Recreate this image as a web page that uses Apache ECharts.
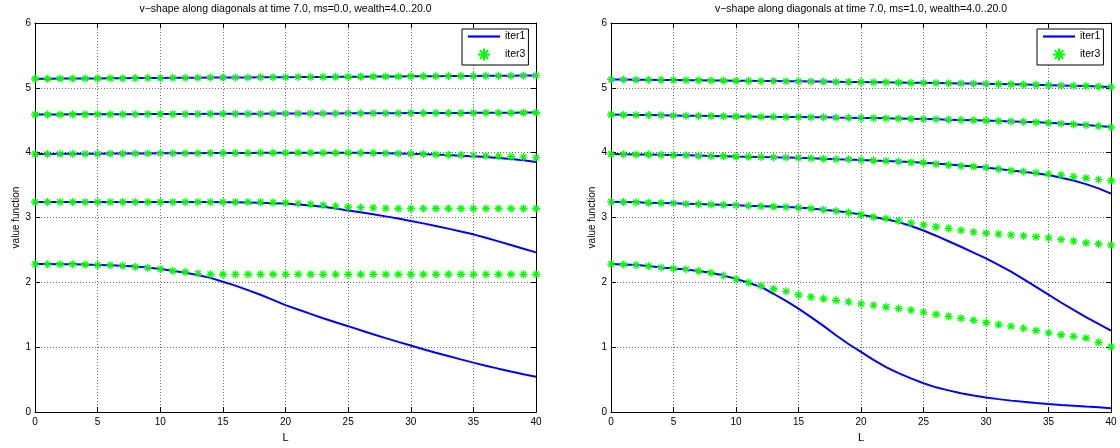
<!DOCTYPE html>
<html>
<head>
<meta charset="utf-8">
<script src="https://cdn.jsdelivr.net/npm/echarts@6/dist/echarts.min.js"></script>
<style>
html,body{margin:0;padding:0;background:#fff;}
#chart{width:1120px;height:448px;}
</style>
</head>
<body>
<div id="chart"></div>
<script>
// ---- data ----
const L = [0,1,2,3,4,5,6,7,8,9,10,11,12,13,14,15,16,17,18,19,20,21,22,23,24,25,26,27,28,29,30,31,32,33,34,35,36,37,38,39,40];
const xTicks = [0,5,10,15,20,25,30,35,40];
const yTicks = [0,1,2,3,4,5,6];
const titles = [
  'v\u2212shape along diagonals at time 7.0, ms=0.0, wealth=4.0..20.0',
  'v\u2212shape along diagonals at time 7.0, ms=1.0, wealth=4.0..20.0'
];
const legendNames = ['iter1', 'iter3'];

// ms = 0.0 panel
const ms0Iter1W1 = [5.140,5.141,5.143,5.144,5.145,5.146,5.148,5.149,5.150,5.151,5.153,5.154,5.155,5.156,5.158,5.159,5.160,5.161,5.163,5.164,5.165,5.166,5.168,5.169,5.170,5.171,5.173,5.174,5.175,5.176,5.178,5.179,5.180,5.181,5.183,5.184,5.185,5.186,5.188,5.189,5.190];
const ms0Iter1W2 = [4.588,4.589,4.590,4.591,4.591,4.592,4.593,4.594,4.594,4.595,4.596,4.597,4.597,4.598,4.599,4.600,4.600,4.601,4.602,4.603,4.603,4.604,4.605,4.606,4.606,4.607,4.608,4.609,4.609,4.610,4.611,4.612,4.612,4.613,4.614,4.615,4.615,4.616,4.617,4.618,4.618];
const ms0Iter1W3 = [3.980,3.981,3.982,3.983,3.984,3.985,3.986,3.987,3.988,3.989,3.990,3.991,3.992,3.993,3.994,3.995,3.996,3.997,3.998,3.999,4.000,4.000,4.000,4.000,4.000,4.000,3.998,3.996,3.993,3.989,3.984,3.978,3.971,3.963,3.954,3.944,3.932,3.918,3.902,3.882,3.858];
const ms0Iter1W4 = [3.240,3.240,3.240,3.240,3.240,3.240,3.240,3.240,3.240,3.240,3.240,3.240,3.240,3.239,3.238,3.237,3.235,3.232,3.228,3.222,3.215,3.200,3.185,3.165,3.140,3.110,3.080,3.050,3.018,2.984,2.948,2.910,2.870,2.829,2.786,2.741,2.688,2.633,2.577,2.520,2.463];
const ms0Iter1W5 = [2.283,2.282,2.280,2.278,2.275,2.270,2.265,2.257,2.245,2.228,2.206,2.180,2.150,2.115,2.070,2.010,1.950,1.880,1.810,1.730,1.650,1.582,1.515,1.448,1.385,1.325,1.262,1.201,1.141,1.083,1.026,0.970,0.916,0.864,0.813,0.763,0.716,0.670,0.626,0.585,0.545];

const ms0Iter3W1 = [5.140,5.141,5.143,5.144,5.145,5.146,5.148,5.149,5.150,5.151,5.153,5.154,5.155,5.156,5.158,5.159,5.160,5.161,5.163,5.164,5.165,5.166,5.168,5.169,5.170,5.171,5.173,5.174,5.175,5.176,5.178,5.179,5.180,5.181,5.183,5.184,5.185,5.186,5.188,5.189,5.190];
const ms0Iter3W2 = [4.588,4.589,4.590,4.591,4.591,4.592,4.593,4.594,4.594,4.595,4.596,4.597,4.597,4.598,4.599,4.600,4.600,4.601,4.602,4.603,4.603,4.604,4.605,4.606,4.606,4.607,4.608,4.609,4.609,4.610,4.611,4.612,4.612,4.613,4.614,4.615,4.615,4.616,4.617,4.618,4.618];
const ms0Iter3W3 = [3.980,3.981,3.982,3.983,3.984,3.985,3.986,3.987,3.988,3.989,3.990,3.991,3.992,3.993,3.994,3.995,3.996,3.997,3.998,3.999,4.000,4.000,4.000,4.000,4.000,4.000,3.998,3.996,3.993,3.989,3.984,3.979,3.974,3.969,3.964,3.959,3.953,3.946,3.939,3.932,3.925];
const ms0Iter3W4 = [3.240,3.240,3.240,3.240,3.240,3.240,3.240,3.240,3.240,3.240,3.240,3.240,3.240,3.240,3.240,3.240,3.240,3.240,3.238,3.234,3.228,3.218,3.204,3.190,3.175,3.163,3.156,3.150,3.145,3.141,3.140,3.140,3.140,3.140,3.140,3.140,3.140,3.140,3.140,3.140,3.140];
const ms0Iter3W5 = [2.283,2.281,2.280,2.279,2.275,2.270,2.265,2.255,2.240,2.226,2.206,2.180,2.160,2.140,2.125,2.125,2.125,2.125,2.125,2.125,2.125,2.125,2.125,2.125,2.125,2.125,2.125,2.125,2.125,2.125,2.125,2.125,2.125,2.125,2.125,2.125,2.125,2.125,2.125,2.125,2.125];

// ms = 1.0 panel
const ms1Iter1W1 = [5.130,5.128,5.126,5.124,5.122,5.120,5.118,5.116,5.114,5.112,5.110,5.108,5.106,5.104,5.102,5.100,5.098,5.096,5.094,5.092,5.090,5.088,5.085,5.083,5.080,5.078,5.075,5.072,5.069,5.066,5.063,5.059,5.055,5.051,5.047,5.042,5.037,5.032,5.027,5.021,5.015];
const ms1Iter1W2 = [4.588,4.585,4.582,4.580,4.577,4.574,4.571,4.568,4.565,4.562,4.560,4.558,4.556,4.553,4.551,4.549,4.547,4.545,4.542,4.540,4.537,4.534,4.530,4.527,4.523,4.519,4.515,4.510,4.505,4.500,4.495,4.489,4.483,4.476,4.468,4.460,4.450,4.439,4.426,4.412,4.396];
const ms1Iter1W3 = [3.980,3.977,3.974,3.971,3.968,3.965,3.960,3.955,3.950,3.945,3.940,3.937,3.934,3.930,3.927,3.924,3.915,3.907,3.900,3.895,3.888,3.879,3.871,3.863,3.855,3.846,3.832,3.817,3.802,3.787,3.770,3.749,3.727,3.705,3.682,3.655,3.615,3.570,3.515,3.450,3.370];
const ms1Iter1W4 = [3.245,3.240,3.235,3.230,3.225,3.220,3.214,3.208,3.202,3.196,3.190,3.183,3.176,3.169,3.162,3.154,3.140,3.120,3.100,3.078,3.045,3.010,2.975,2.930,2.870,2.800,2.720,2.635,2.550,2.460,2.370,2.270,2.165,2.050,1.930,1.810,1.690,1.575,1.465,1.360,1.255];
const ms1Iter1W5 = [2.282,2.277,2.267,2.252,2.231,2.216,2.200,2.176,2.150,2.105,2.054,1.995,1.930,1.825,1.715,1.595,1.465,1.330,1.185,1.050,0.930,0.805,0.695,0.600,0.520,0.445,0.382,0.335,0.292,0.256,0.225,0.200,0.177,0.158,0.141,0.125,0.111,0.098,0.085,0.073,0.060];

const ms1Iter3W1 = [5.130,5.128,5.126,5.124,5.122,5.120,5.118,5.116,5.114,5.112,5.110,5.108,5.106,5.104,5.102,5.100,5.098,5.096,5.094,5.092,5.090,5.088,5.085,5.083,5.080,5.078,5.075,5.072,5.069,5.066,5.063,5.059,5.055,5.051,5.047,5.042,5.037,5.032,5.027,5.021,5.012];
const ms1Iter3W2 = [4.588,4.585,4.582,4.580,4.577,4.574,4.571,4.568,4.565,4.562,4.560,4.558,4.556,4.553,4.551,4.549,4.547,4.545,4.542,4.540,4.537,4.534,4.530,4.527,4.523,4.519,4.515,4.510,4.505,4.500,4.495,4.489,4.483,4.476,4.468,4.460,4.450,4.439,4.426,4.412,4.393];
const ms1Iter3W3 = [3.980,3.977,3.974,3.971,3.968,3.965,3.960,3.955,3.950,3.945,3.940,3.937,3.934,3.930,3.927,3.924,3.915,3.907,3.900,3.898,3.888,3.878,3.873,3.863,3.853,3.848,3.827,3.812,3.796,3.787,3.772,3.748,3.727,3.710,3.690,3.670,3.655,3.632,3.610,3.588,3.570];
const ms1Iter3W4 = [3.245,3.240,3.235,3.230,3.225,3.220,3.214,3.208,3.202,3.196,3.190,3.183,3.176,3.169,3.162,3.154,3.140,3.120,3.100,3.078,3.045,3.010,2.986,2.950,2.915,2.888,2.860,2.834,2.805,2.778,2.758,2.745,2.732,2.718,2.705,2.687,2.663,2.637,2.612,2.596,2.576];
const ms1Iter3W5 = [2.282,2.277,2.267,2.252,2.231,2.216,2.201,2.176,2.150,2.105,2.054,1.998,1.948,1.902,1.862,1.811,1.776,1.750,1.725,1.700,1.669,1.649,1.624,1.598,1.573,1.543,1.507,1.477,1.446,1.416,1.380,1.350,1.325,1.294,1.259,1.223,1.193,1.168,1.143,1.076,1.006];

const panelIter1 = [
  [ms0Iter1W1, ms0Iter1W2, ms0Iter1W3, ms0Iter1W4, ms0Iter1W5],
  [ms1Iter1W1, ms1Iter1W2, ms1Iter1W3, ms1Iter1W4, ms1Iter1W5]
];
const panelIter3 = [
  [ms0Iter3W1, ms0Iter3W2, ms0Iter3W3, ms0Iter3W4, ms0Iter3W5],
  [ms1Iter3W1, ms1Iter3W2, ms1Iter3W3, ms1Iter3W4, ms1Iter3W5]
];

// ---- styling / layout ----
const FONT = 'Liberation Sans, Arial, Helvetica, sans-serif';
const BLUE = '#0000ff';
const GREEN = '#00ff00';
const STAR = 'path://M5,0L5,10M0,5L10,5M1.5,1.5L8.5,8.5M1.5,8.5L8.5,1.5';
const LINE_ICON = 'path://M0,0L32,0L32,2.2L0,2.2Z';
const grids = [
  {left: 35, top: 23, width: 501, height: 394.5},
  {left: 611, top: 23, width: 500, height: 394.5}
];
const legendLeft = [462, 1037];

const xAxes = [], yAxes = [], series = [], titleOpts = [], legends = [];
grids.forEach((g, gi) => {
  const tick = {show: true, inside: true, length: 5, lineStyle: {color: '#000', width: 1}};
  xAxes.push({
    gridIndex: gi, type: 'value', min: xTicks[0], max: xTicks[xTicks.length - 1], interval: xTicks[1] - xTicks[0],
    position: 'bottom', name: 'L', nameLocation: 'middle', nameGap: 18,
    nameTextStyle: {fontFamily: FONT, fontSize: 11, color: '#000'},
    axisLine: {show: true, onZero: false, lineStyle: {color: '#000', width: 1}},
    axisTick: tick,
    axisLabel: {fontFamily: FONT, fontSize: 10, color: '#000', margin: 5},
    splitLine: {show: true, lineStyle: {color: '#6e6e6e', width: 1, type: [1, 2]}}
  });
  xAxes.push({
    gridIndex: gi, type: 'value', min: xTicks[0], max: xTicks[xTicks.length - 1], interval: xTicks[1] - xTicks[0],
    position: 'top',
    axisLine: {show: true, onZero: false, lineStyle: {color: '#000', width: 1}},
    axisTick: tick, axisLabel: {show: false}, splitLine: {show: false}
  });
  yAxes.push({
    gridIndex: gi, type: 'value', min: yTicks[0], max: yTicks[yTicks.length - 1], interval: yTicks[1] - yTicks[0],
    position: 'left', name: 'value function', nameLocation: 'middle', nameGap: 14,
    nameTextStyle: {fontFamily: FONT, fontSize: 10, color: '#000'},
    axisLine: {show: true, onZero: false, lineStyle: {color: '#000', width: 1}},
    axisTick: tick,
    axisLabel: {fontFamily: FONT, fontSize: 10, color: '#000', margin: 4},
    splitLine: {show: true, lineStyle: {color: '#6e6e6e', width: 1, type: [1, 2]}}
  });
  yAxes.push({
    gridIndex: gi, type: 'value', min: yTicks[0], max: yTicks[yTicks.length - 1], interval: yTicks[1] - yTicks[0],
    position: 'right',
    axisLine: {show: true, onZero: false, lineStyle: {color: '#000', width: 1}},
    axisTick: tick, axisLabel: {show: false}, splitLine: {show: false}
  });
  titleOpts.push({
    text: titles[gi], left: g.left + g.width / 2, textAlign: 'center', top: 4, padding: 0,
    textStyle: {fontFamily: FONT, fontSize: 10.5, fontWeight: 'normal', color: '#000'}
  });
  legends.push({
    data: [
      {name: legendNames[0], icon: LINE_ICON, itemStyle: {color: BLUE, borderWidth: 0}},
      {name: legendNames[1], icon: STAR}
    ],
    orient: 'vertical', left: legendLeft[gi], top: 29,
    padding: [2, 3, 2, 6], itemWidth: 32, itemHeight: 12, itemGap: 4,
    backgroundColor: '#fff', borderColor: '#000', borderWidth: 1,
    textStyle: {fontFamily: FONT, fontSize: 10.5, color: '#000'},
    selectedMode: false
  });
  panelIter1[gi].forEach(arr => {
    series.push({
      type: 'line', name: legendNames[0], xAxisIndex: gi * 2, yAxisIndex: gi * 2,
      data: L.map((x, i) => [x, arr[i]]), symbol: 'none', smooth: false,
      lineStyle: {color: BLUE, width: 2}, itemStyle: {color: BLUE}, z: 2, silent: true
    });
  });
  panelIter3[gi].forEach(arr => {
    series.push({
      type: 'scatter', name: legendNames[1], xAxisIndex: gi * 2, yAxisIndex: gi * 2,
      data: L.map((x, i) => [x, arr[i]]), symbol: STAR, symbolSize: 8,
      itemStyle: {color: 'none', borderColor: GREEN, borderWidth: 1.3, opacity: 1},
      z: 3, silent: true
    });
  });
});

const chart = echarts.init(document.getElementById('chart'), null, {renderer: 'canvas'});
chart.setOption({
  animation: false,
  backgroundColor: '#fff',
  title: titleOpts,
  legend: legends,
  grid: grids,
  xAxis: xAxes,
  yAxis: yAxes,
  series: series
});
</script>
</body>
</html>
